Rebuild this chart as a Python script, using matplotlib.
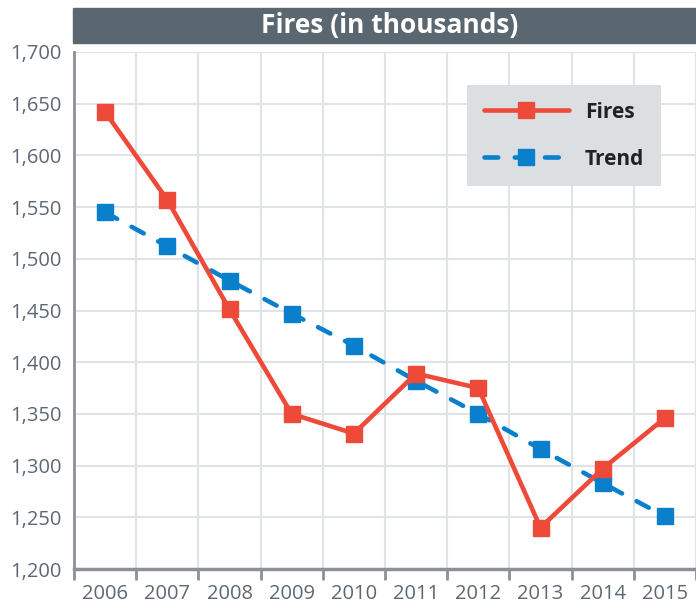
import matplotlib.pyplot as plt
from matplotlib.patches import Rectangle
from matplotlib.ticker import FuncFormatter, FixedLocator

plt.rcParams['font.family'] = ['Open Sans', 'DejaVu Sans']

years = ['2006', '2007', '2008', '2009', '2010', '2011', '2012', '2013', '2014', '2015']
fires = [1642, 1557, 1451, 1350, 1331, 1389, 1375, 1240, 1297, 1346]
trend = [1545, 1512, 1479, 1447, 1416, 1382, 1350, 1316, 1283, 1251]

red = '#ee4a3a'
blue = '#0a80cc'
grid_c = '#e1e4e7'
axis_c = '#8c9197'
text_c = '#5d6872'

W, H = 696, 609
fig = plt.figure(figsize=(W / 100, H / 100), dpi=100)

# title bar
fig.patches.append(Rectangle((73 / W, 1 - 42.5 / H), 1, 34.5 / H,
                             transform=fig.transFigure, color='#5b6770', zorder=0))
fig.text(390 / W, 1 - 25.5 / H, 'Fires (in thousands)', color='white',
         fontsize=19, fontweight='bold', ha='center', va='center')

ax = fig.add_axes([74 / W, 40 / H, 622 / W, 517 / H])
x = list(range(len(years)))

ax.plot(x, fires, color=red, lw=3.3, marker='s', ms=12, label='Fires', zorder=4,
        clip_on=False, solid_capstyle='round')
ax.plot(x, trend, color=blue, lw=3.3, ls=(0, (3.0, 3.6)), marker='s', ms=12,
        label='Trend', zorder=3, clip_on=False, dash_capstyle='round')

ax.set_xlim(-0.5, -0.5 + 622 / 63)
ax.set_ylim(1200, 1700)
ax.set_yticks(range(1200, 1701, 50))
ax.yaxis.set_major_formatter(FuncFormatter(lambda v, p: f'{int(v):,}'))
ax.set_xticks([i - 0.5 for i in range(len(years) + 1)])
ax.set_xticklabels([])
ax.xaxis.set_minor_locator(FixedLocator(x))
ax.set_xticklabels(years, minor=True)

ax.grid(True, which='major', color=grid_c, lw=1.5, zorder=0)
ax.tick_params(axis='y', length=0, pad=9, labelsize=14.5, labelcolor=text_c)
ax.tick_params(axis='x', which='major', length=8, width=2, color=axis_c, direction='out')
ax.tick_params(axis='x', which='minor', length=0, pad=11, labelsize=14.5, labelcolor=text_c)

for s in ['top', 'right']:
    ax.spines[s].set_visible(False)
ax.spines['left'].set_color(axis_c)
ax.spines['left'].set_linewidth(2)
ax.spines['bottom'].set_color(axis_c)
ax.spines['bottom'].set_linewidth(2.5)

leg = ax.legend(loc='upper left', bbox_to_anchor=((467 - 74) / 622, 1 - (85 - 52) / 517),
                frameon=True, fancybox=False, facecolor='#dcdfe2', edgecolor='none',
                framealpha=1, borderpad=0.8, borderaxespad=0, labelspacing=1.25,
                handlelength=4.1, handletextpad=0.75,
                prop={'weight': 'bold', 'size': 15})
for t in leg.get_texts():
    t.set_color('#222222')

fig.savefig('out.png', dpi=100)
